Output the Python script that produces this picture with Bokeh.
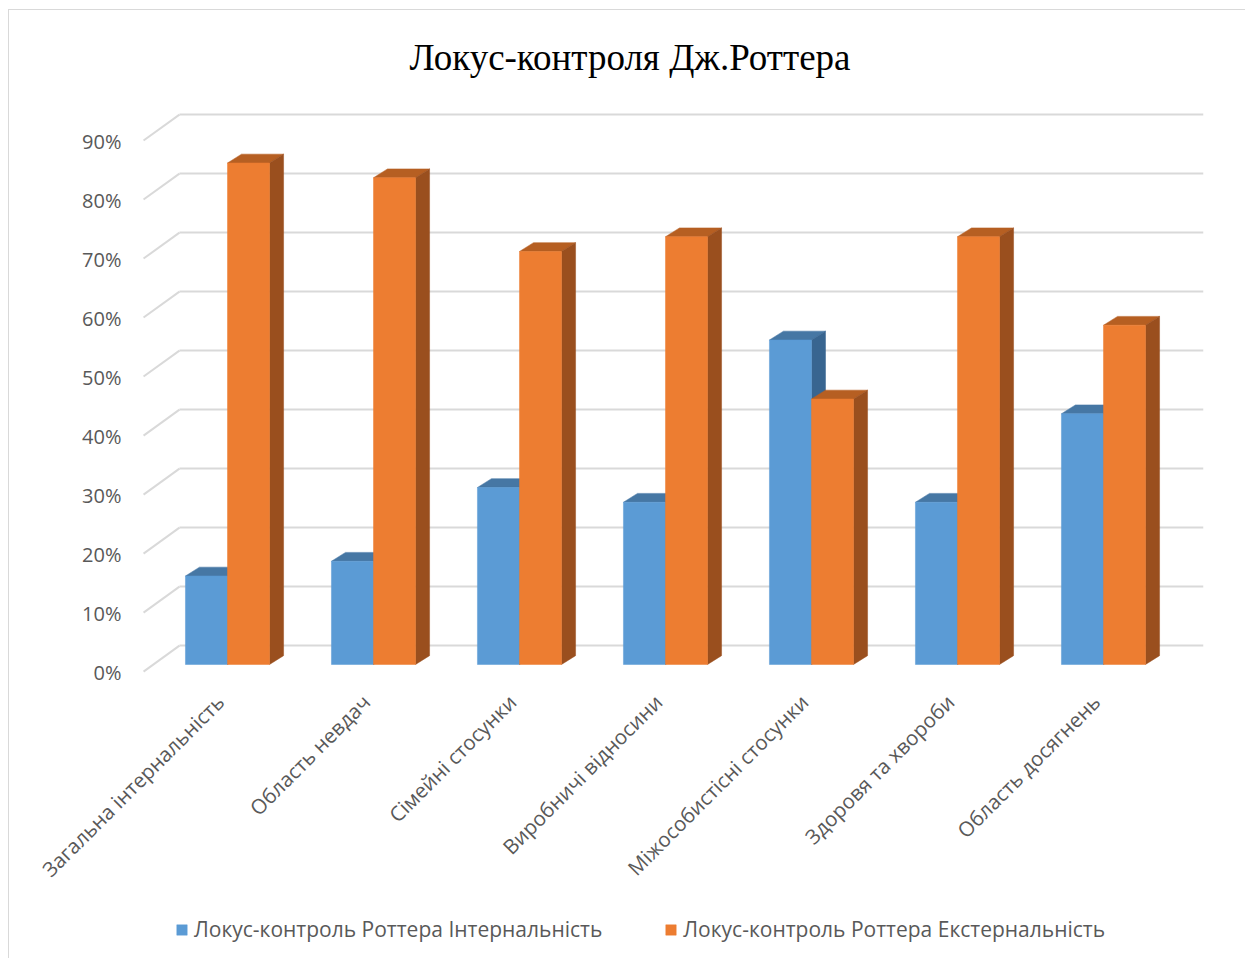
import math
from bokeh.plotting import figure
from bokeh.models import Range1d, Legend, LegendItem, ColumnDataSource
from bokeh.core.properties import value
from bokeh.embed import file_html
from bokeh.resources import INLINE

# ---------------- data ----------------
categories = ["Загальна інтернальність", "Область невдач", "Сімейні стосунки",
              "Виробничі відносини", "Міжособистісні стосунки",
              "Здоровя та хвороби", "Область досягнень"]
internal = [15, 17.5, 30, 27.5, 55, 27.5, 42.5]
external = [85, 82.5, 70, 72.5, 45, 72.5, 57.5]
series_names = ["Локус-контроль Роттера Інтернальність",
                "Локус-контроль Роттера Екстернальність"]
y_ticks = [0, 10, 20, 30, 40, 50, 60, 70, 80, 90]
y_tick_labels = ["0%", "10%", "20%", "30%", "40%", "50%", "60%", "70%", "80%", "90%"]
title_text = "Локус-контроля Дж.Роттера"

# ---------------- style ----------------
BLUE = ("#5B9BD5", "#4677A4", "#386590")     # front, top, side
ORANGE = ("#ED7D31", "#B65F22", "#9A4F1E")
GRID = "#D9D9D9"
TXT = "#595959"
FONT = "Open Sans"

bar_w = 0.288          # width of one bar (category units)
ddx, ddy = 0.096, 1.5  # bar depth vector (x units, % units)
front_dy = -1.2        # side-wall front edge offset
back_dx, back_dy = -0.329, 3.2
front_x = -0.575
label_dx, label_y = -0.05, -5.7    # category label anchor (right end)
ylab_x, ylab_dy = -0.726, -1.36    # y tick label anchor (right end)

p = figure(frame_width=1182, frame_height=856, output_backend="svg", toolbar_location=None,
           x_range=Range1d(-1.411, 6.685), y_range=Range1d(-49.83, 95.25),
           min_border_left=12, min_border_right=42, min_border_top=91,
           min_border_bottom=0)
p.margin = (9, 0, 0, 8)
p.xaxis.visible = False
p.yaxis.visible = False
p.xgrid.visible = False
p.ygrid.visible = False
p.outline_line_color = None
p.styles = {"border-left": "1px solid #D9D9D9", "border-top": "1px solid #D9D9D9"}

p.title.text = title_text
p.title.align = "left"
p.title.text_font = "Liberation Serif"
p.title.text_font_size = "37px"
p.title.text_font_style = "normal"
p.title.text_color = "#000000"
p.title.standoff = 49
p.title.offset = 388

# ---------------- walls / gridlines ----------------
right_x = p.x_range.end
p.segment(x0=[back_dx] * len(y_ticks), y0=[t + back_dy for t in y_ticks],
          x1=[right_x] * len(y_ticks), y1=[t + back_dy for t in y_ticks],
          line_color=GRID, line_width=2)
p.segment(x0=[front_x] * len(y_ticks), y0=[t + front_dy for t in y_ticks],
          x1=[back_dx] * len(y_ticks), y1=[t + back_dy for t in y_ticks],
          line_color=GRID, line_width=2)

# ---------------- 3D bars ----------------
front_renderers = []
for values, colors, offset in ((internal, BLUE, -bar_w), (external, ORANGE, 0.0)):
    x0 = [i + offset for i in range(len(values))]
    x1 = [x + bar_w for x in x0]
    tops_x = [[a, b, b + ddx, a + ddx] for a, b in zip(x0, x1)]
    tops_y = [[v, v, v + ddy, v + ddy] for v in values]
    sides_x = [[b, b, b + ddx, b + ddx] for b in x1]
    sides_y = [[0, v, v + ddy, ddy] for v in values]
    p.patches(xs=tops_x, ys=tops_y, fill_color=colors[1], line_color=colors[1], line_width=0.5)
    p.patches(xs=sides_x, ys=sides_y, fill_color=colors[2], line_color=colors[2], line_width=0.5)
    src = ColumnDataSource(dict(left=x0, right=x1, top=values, bottom=[0] * len(values)))
    r = p.quad(left="left", right="right", top="top", bottom="bottom", source=src,
               fill_color=colors[0], line_color=colors[0], line_width=0.5)
    front_renderers.append(r)

# ---------------- y tick labels ----------------
ylab_src = ColumnDataSource(dict(x=[ylab_x] * len(y_ticks),
                                 y=[t + ylab_dy for t in y_ticks], text=y_tick_labels))
p.text(x="x", y="y", text="text", source=ylab_src, text_align="right",
       text_baseline="middle", text_font=value(FONT), text_font_size="20px",
       text_color=TXT)

# ---------------- category labels ----------------
lab_src = ColumnDataSource(dict(x=[i + label_dx for i in range(len(categories))],
                                y=[label_y] * len(categories), text=categories))
p.text(x="x", y="y", text="text", source=lab_src, angle=math.pi / 4,
       text_align="right", text_baseline="middle", text_font=value(FONT),
       text_font_size="20.5px", text_color=TXT)

# ---------------- legend ----------------
legend = Legend(items=[LegendItem(label=n, renderers=[r]) for n, r in zip(series_names, front_renderers)],
                orientation="horizontal", location=(154, 15))
legend.label_text_font = FONT
legend.label_text_font_size = "21px"
legend.label_text_color = TXT
legend.glyph_width = 13
legend.glyph_height = 13
legend.label_standoff = 6
legend.spacing = 62
legend.border_line_color = None
legend.background_fill_alpha = 0
legend.margin = 0
legend.padding = 4
p.add_layout(legend, "center")

open("out.html", "w").write(file_html(p, INLINE))
